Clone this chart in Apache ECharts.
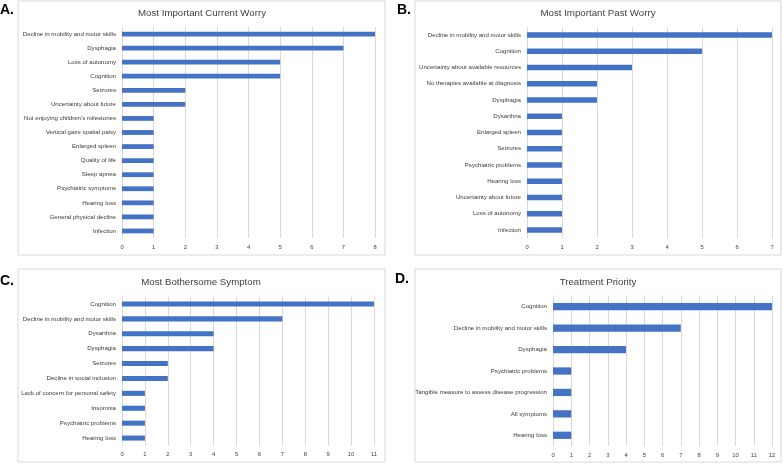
<!DOCTYPE html>
<html>
<head>
<meta charset="utf-8">
<script src="https://cdn.jsdelivr.net/npm/echarts@6/dist/echarts.min.js"></script>
<style>
html,body{margin:0;padding:0;background:#fff;}
#chart{width:783px;height:464px;}
</style>
</head>
<body>
<div id="chart"></div>
<script>
// Panel A: Most Important Current Worry
const catsA = ["Decline in mobility and motor skills","Dysphagia","Loss of autonomy","Cognition","Seizures","Uncertainty about future","Not enjoying children's milestones","Vertical gaze spatial palsy","Enlarged spleen","Quality of life","Sleep apnea","Psychiatric symptoms","Hearing loss","General physical decline","Infection"];
const valsA = [8,7,5,5,2,2,1,1,1,1,1,1,1,1,1];
// Panel B: Most Important Past Worry
const catsB = ["Decline in mobility and motor skills","Cognition","Uncertainty about available resources","No therapies available at diagnosis","Dysphagia","Dysarthria","Enlarged spleen","Seizures","Psychiatric problems","Hearing loss","Uncertainty about future","Loss of autonomy","Infection"];
const valsB = [7,5,3,2,2,1,1,1,1,1,1,1,1];
// Panel C: Most Bothersome Symptom
const catsC = ["Cognition","Decline in mobility and motor skills","Dysarthria","Dysphagia","Seizures","Decline in social inclusion","Lack of concern for personal safety","Insomnia","Psychiatric problems","Hearing loss"];
const valsC = [11,7,4,4,2,2,1,1,1,1];
// Panel D: Treatment Priority
const catsD = ["Cognition","Decline in mobility and motor skills","Dysphagia","Psychiatric problems","Tangible measure to assess disease progression","All symptoms","Hearing loss"];
const valsD = [12,7,4,1,1,1,1];
// axis maxima
const axisMax = [8,7,11,12];
const titles = ["Most Important Current Worry","Most Important Past Worry","Most Bothersome Symptom","Treatment Priority"];
const letters = ["A.","B.","C.","D."];

const FONT = "Liberation Sans";
const panels = [
  {cats:catsA, vals:valsA, grid:{left:122, top:27, width:253, height:211}},
  {cats:catsB, vals:valsB, grid:{left:527, top:27, width:245, height:211}},
  {cats:catsC, vals:valsC, grid:{left:122, top:296.5, width:252, height:149}},
  {cats:catsD, vals:valsD, grid:{left:553, top:296, width:219, height:150}}
];
const boxes = [
  {x:18, y:1, w:367, h:254, tx:202, ty:13, lx:0, ly:10},
  {x:415, y:1, w:366, h:254, tx:598, ty:13, lx:397, ly:10},
  {x:18, y:269, w:367, h:193, tx:201, ty:282, lx:0, ly:281},
  {x:415, y:269, w:366, h:193, tx:598, ty:282, lx:395, ly:279}
];

const chart = echarts.init(document.getElementById('chart'), null, {renderer:'canvas'});
const graphic = [];
boxes.forEach((b,i)=>{
  graphic.push({type:'rect', shape:{x:b.x, y:b.y, width:b.w, height:b.h}, style:{fill:'none', stroke:'#d9d9d9', lineWidth:1}, z:-1});
  graphic.push({type:'text', x:b.tx, y:b.ty, style:{text:titles[i], fontFamily:FONT, fontSize:9.7, fill:'#404040', align:'center', verticalAlign:'middle'}});
  graphic.push({type:'text', x:b.lx, y:b.ly, style:{text:letters[i], fontFamily:FONT, fontSize:14, fontWeight:'bold', fill:'#000', align:'left', verticalAlign:'middle'}});
});

const option = {
  backgroundColor:'#fff',
  animation:false,
  textStyle:{fontFamily:FONT},
  graphic: graphic,
  grid: panels.map(p=>Object.assign({containLabel:false}, p.grid)),
  xAxis: panels.map((p,i)=>({
    type:'value', gridIndex:i, min:0, max:axisMax[i], interval:1,
    axisLine:{show:false}, axisTick:{show:false},
    splitLine:{show:true, lineStyle:{color:'#d9d9d9', width:1}},
    axisLabel:{fontSize:5.8, color:'#404040', margin:6, fontFamily:FONT}
  })),
  yAxis: panels.map((p,i)=>({
    type:'category', gridIndex:i, data:p.cats, inverse:true,
    axisLine:{show:false}, axisTick:{show:false}, splitLine:{show:false},
    axisLabel:{fontSize:6.1, color:'#3a3a3a', margin:6, fontFamily:FONT, interval:0}
  })),
  series: panels.map((p,i)=>({
    type:'bar', xAxisIndex:i, yAxisIndex:i, data:p.vals,
    barWidth:'34%', itemStyle:{color:'#4472C4'}
  }))
};
chart.setOption(option);
</script>
</body>
</html>
